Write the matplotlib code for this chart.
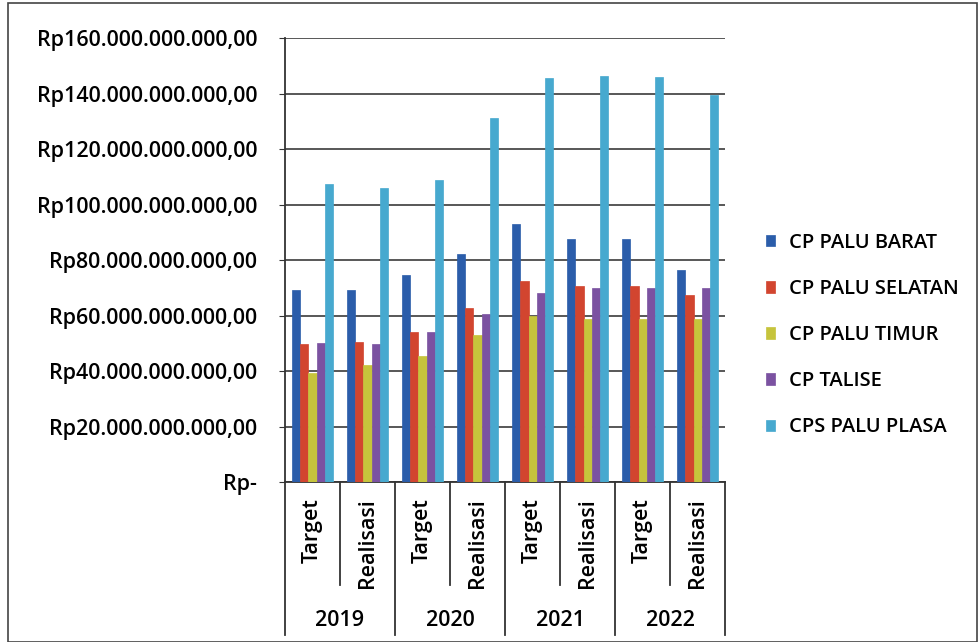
import matplotlib.pyplot as plt
import matplotlib.transforms as mtransforms
import numpy as np

years = ["2019", "2020", "2021", "2022"]
kinds = ["Target", "Realisasi"]
series = ["CP PALU BARAT", "CP PALU SELATAN", "CP PALU TIMUR", "CP TALISE", "CPS PALU PLASA"]
# values in billions of rupiah, order: 2019 T, 2019 R, 2020 T, 2020 R, ... 2022 R
palu_barat = [69.3, 69.3, 74.5, 82.2, 93.0, 87.5, 87.5, 76.4]
palu_selatan = [49.9, 50.5, 53.9, 62.8, 72.5, 70.7, 70.7, 67.3]
palu_timur = [39.4, 42.1, 45.5, 53.1, 59.8, 58.8, 58.8, 58.8]
talise = [50.0, 49.7, 53.9, 60.6, 68.1, 70.0, 70.0, 70.0]
palu_plasa = [107.5, 106.0, 108.7, 131.2, 145.7, 146.3, 146.0, 139.4]
yticks = [0, 20, 40, 60, 80, 100, 120, 140, 160]
colors = ["#2B5DAA", "#D2452F", "#C6C43C", "#7B52A1", "#47A9CF"]

plt.rcParams["font.family"] = ["Open Sans", "DejaVu Sans"]
plt.rcParams["font.weight"] = "semibold"

fig = plt.figure(figsize=(9.79, 6.42), dpi=100)
ax = fig.add_axes([0.2911, 0.2492, 0.4495, 0.6916])

values = [palu_barat, palu_selatan, palu_timur, talise, palu_plasa]
n_cat = len(years) * len(kinds)
x = np.arange(n_cat) + 0.5
w = 0.146
for i, (name, vals) in enumerate(zip(series, values)):
    ax.bar(x + (i - 2) * w, vals, width=w, color=colors[i], label=name,
           edgecolor=colors[i], linewidth=0.5, zorder=3)

ax.set_xlim(0, n_cat)
ax.set_ylim(0, 160)
ax.set_yticks(yticks)
ax.set_yticklabels(["Rp-"] + [f"Rp{v}.000.000.000,00" for v in yticks[1:]], fontsize=15.5)
ax.tick_params(axis="y", length=4, pad=16, color="#333333")
ax.grid(axis="y", color="#4a4a4a", linewidth=1.3, zorder=0)

ax.set_xticks(x)
ax.set_xticklabels(kinds * len(years), rotation=90, fontsize=15.5, va="top")
ax.tick_params(axis="x", length=0, pad=12)

for s in ["top", "right"]:
    ax.spines[s].set_visible(False)
for s in ["left", "bottom"]:
    ax.spines[s].set_color("#333333")
    ax.spines[s].set_linewidth(1.3)

trans = mtransforms.blended_transform_factory(ax.transData, ax.transAxes)
for k in range(n_cat + 1):
    bottom = -0.345 if k % 2 == 0 else -0.232
    ax.plot([k, k], [0, bottom], transform=trans, color="#333333",
            linewidth=1.3, clip_on=False)
for j, yr in enumerate(years):
    ax.text(2 * j + 1, -0.311, yr, transform=trans, ha="center", va="center",
            fontsize=15.5)

ax.legend(loc="center left", bbox_to_anchor=(0.764, 0.478),
          bbox_transform=fig.transFigure, frameon=False, fontsize=14.5,
          handlelength=0.45, handleheight=0.5, labelspacing=1.3,
          handletextpad=0.7)

fig.patches.append(plt.Rectangle((0.008, 0.0), 0.99, 0.995, transform=fig.transFigure,
                                 fill=False, edgecolor="#444444", linewidth=1.2))

plt.savefig("out.png", dpi=100)
plt.close()
